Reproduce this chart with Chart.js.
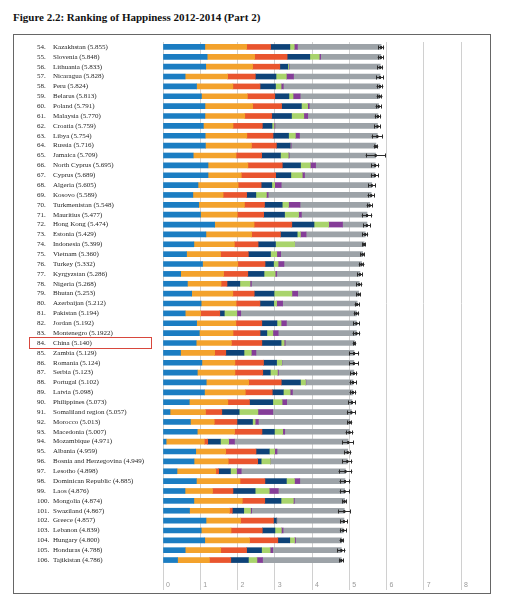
<!DOCTYPE html>
<html><head><meta charset="utf-8">
<script src="https://cdn.jsdelivr.net/npm/chart.js@4/dist/chart.umd.min.js"></script>
<style>
html,body{margin:0;padding:0;background:#fff;}
#wrap{position:relative;width:505px;height:600px;overflow:hidden;}
#title{position:absolute;left:13px;top:11px;font:bold 11px "Liberation Serif",serif;color:#111;white-space:nowrap;line-height:13px;}
#frame{position:absolute;left:13px;top:34px;width:478px;height:560px;border:1px solid #666;box-sizing:border-box;}
canvas{position:absolute;left:0;top:0;}
</style></head><body>
<div id="wrap">
<div id="title">Figure 2.2: Ranking of Happiness 2012-2014 (Part 2)</div>
<div id="frame"></div>
<canvas id="c" width="505" height="600"></canvas>
</div>
<script>
const firstRank = 54;
const highlight = 'China';
const countries = ['Kazakhstan','Slovenia','Lithuania','Nicaragua','Peru','Belarus','Poland','Malaysia','Croatia','Libya','Russia','Jamaica','North Cyprus','Cyprus','Algeria','Kosovo','Turkmenistan','Mauritius','Hong Kong','Estonia','Indonesia','Vietnam','Turkey','Kyrgyzstan','Nigeria','Bhutan','Azerbaijan','Pakistan','Jordan','Montenegro','China','Zambia','Romania','Serbia','Portugal','Latvia','Philippines','Somaliland region','Morocco','Macedonia','Mozambique','Albania','Bosnia and Herzegovina','Lesotho','Dominican Republic','Laos','Mongolia','Swaziland','Greece','Lebanon','Hungary','Honduras','Tajikistan'];
const scoreLabels = ['5.855','5.848','5.833','5.828','5.824','5.813','5.791','5.770','5.759','5.754','5.716','5.709','5.695','5.689','5.605','5.589','5.548','5.477','5.474','5.429','5.399','5.360','5.332','5.286','5.268','5.253','5.212','5.194','5.192','5.1922','5.140','5.129','5.124','5.123','5.102','5.098','5.073','5.057','5.013','5.007','4.971','4.959','4.949','4.898','4.885','4.876','4.874','4.867','4.857','4.839','4.800','4.788','4.786'];
const stdErrors = [0.04114,0.04251,0.03843,0.05371,0.04615,0.03938,0.04263,0.04330,0.04394,0.07832,0.03135,0.13693,0.05635,0.05580,0.05099,0.05018,0.04175,0.07197,0.05051,0.04013,0.02596,0.03107,0.03864,0.03823,0.04192,0.03225,0.03363,0.03726,0.04524,0.05235,0.02424,0.06988,0.06607,0.04864,0.04802,0.04640,0.04934,0.06161,0.03390,0.05376,0.07896,0.05013,0.06913,0.09438,0.07446,0.06698,0.03313,0.08742,0.05062,0.04615,0.03107,0.05648,0.03198];
const gdp = [1.12254,1.18498,1.14723,0.59325,0.90019,1.03192,1.12555,1.12486,1.08254,1.13145,1.13764,0.81038,1.20806,1.20813,0.93929,0.80148,0.95847,1.00761,1.38604,1.15174,0.82827,0.63216,1.06098,0.47428,0.65435,0.77042,1.02389,0.59543,0.90198,0.97438,0.89012,0.47038,1.04345,0.92053,1.15991,1.11312,0.70532,0.18847,0.73479,0.91851,0.08308,0.87867,0.83223,0.37545,0.89537,0.59066,0.82819,0.71206,1.15406,1.02564,1.12094,0.59532,0.39047];
const socialSupport = [1.12241,1.27385,1.25745,1.14184,0.97459,1.23289,1.27948,1.07023,0.79624,1.11862,1.23617,1.15102,1.07008,0.89318,1.07772,0.81198,1.22668,0.98521,1.05818,1.22791,1.08708,0.91226,0.94632,1.15115,0.90432,1.10395,0.93793,0.41411,1.05392,0.90557,0.94675,0.91612,0.88588,1.00964,1.13935,1.09562,1.03516,0.95152,0.64095,1.00232,1.02626,0.80434,0.91916,1.04103,1.17202,0.73803,1.30060,1.07284,0.92933,0.80001,1.20215,0.95348,0.85563];
const lifeExpectancy = [0.64368,0.87337,0.73128,0.74314,0.73017,0.73608,0.77903,0.72394,0.78805,0.70380,0.66926,0.68741,0.92356,0.92356,0.61766,0.63132,0.53886,0.70950,1.01328,0.77361,0.63793,0.74676,0.73172,0.65088,0.16007,0.57407,0.64045,0.51466,0.69639,0.72521,0.81658,0.29924,0.76890,0.74836,0.87519,0.72437,0.58114,0.43873,0.60954,0.73545,0.09131,0.81325,0.79081,0.07612,0.66825,0.54909,0.60268,0.07566,0.88213,0.83947,0.75905,0.69510,0.57379];
const freedom = [0.51649,0.60855,0.21342,0.55475,0.41496,0.37938,0.53122,0.53024,0.25883,0.41668,0.36679,0.50442,0.49027,0.40672,0.28579,0.24749,0.47610,0.56066,0.59608,0.44888,0.46611,0.59444,0.22815,0.43477,0.34334,0.53206,0.37030,0.12102,0.40661,0.18260,0.51697,0.48827,0.35068,0.20107,0.51469,0.29671,0.62545,0.46582,0.41691,0.33457,0.34037,0.35733,0.09245,0.31767,0.57672,0.59591,0.43626,0.30658,0.07699,0.33916,0.32112,0.40148,0.47216];
const generosity = [0.11827,0.25328,0.02641,0.27815,0.14982,0.11046,0.16759,0.33075,0.05444,0.18295,0.00199,0.21123,0.26169,0.30638,0.07822,0.28310,0.16979,0.37744,0.39478,0.08680,0.51535,0.16860,0.12253,0.30030,0.27233,0.47998,0.07799,0.33671,0.11053,0.16140,0.08185,0.19591,0.13748,0.19231,0.13719,0.18226,0.24991,0.50318,0.07172,0.22359,0.22269,0.14272,0.24808,0.16388,0.21684,0.37859,0.33230,0.18259,0.00000,0.17300,0.12800,0.23027,0.22974];
const corruption = [0.08454,0.03787,0.01031,0.19317,0.05989,0.19090,0.04212,0.10501,0.02430,0.11023,0.03005,0.02299,0.14280,0.06146,0.17383,0.04741,0.30844,0.07521,0.37124,0.15184,0.00000,0.10441,0.15746,0.04232,0.04030,0.15445,0.16065,0.10464,0.14293,0.14296,0.02781,0.12468,0.00649,0.02617,0.01078,0.06332,0.12279,0.39928,0.08546,0.05327,0.15603,0.06413,0.00227,0.12504,0.14234,0.24249,0.02666,0.03060,0.01397,0.04582,0.02758,0.06825,0.15072];
const dystopiaResidual = [2.24729,1.61583,2.44649,2.32407,2.59450,2.13090,1.86565,1.88541,2.75414,2.09066,2.27394,2.32038,1.59888,1.88931,2.43209,2.76579,1.86984,1.76145,0.65429,1.58782,1.86399,2.20173,2.08528,2.23270,2.89319,1.63794,2.00073,3.10709,1.87996,2.10017,1.86040,2.63430,1.93129,2.02500,1.26462,1.62215,1.75393,2.11032,2.45373,1.73933,3.05137,1.89894,2.06367,2.79832,1.21305,1.78178,1.34759,2.48676,1.80101,1.61583,1.24074,1.84408,2.11399];
const seriesNames = ['GDP per capita','Social support','Healthy life expectancy','Freedom to make life choices','Generosity','Perceptions of corruption','Dystopia (1.85) + residual'];
const seriesColors = ['#1b7dc2','#f3a22c','#e9552e','#0e4378','#a9d46c','#853d98','#9da3a8'];
const xTicks = [0,1,2,3,4,5,6,7,8];

const seriesData = [gdp, socialSupport, lifeExpectancy, freedom, generosity, corruption, dystopiaResidual];

const rowLabels = {
  id: 'rowLabels',
  afterDraw(chart) {
    const ys = chart.scales.y, c = chart.ctx;
    c.save();
    c.font = '7px "Liberation Serif"';
    c.fillStyle = '#1e1e1e';
    c.textBaseline = 'middle';
    c.textAlign = 'left';
    countries.forEach((name, i) => {
      const py = ys.getPixelForValue(i);
      c.fillText((firstRank + i) + '.', 37, py);
      c.fillText(name + ' (' + scoreLabels[i] + ')', 53, py);
    });
    const hi = countries.indexOf(highlight);
    const hy = Math.round(ys.getPixelForValue(hi));
    c.strokeStyle = '#d8473d';
    c.lineWidth = 1;
    c.strokeRect(29.5, hy - 5.5, 122, 11);
    c.restore();
  }
};

const whiskers = {
  id: 'whiskers',
  afterDatasetsDraw(chart) {
    const xs = chart.scales.x, ys = chart.scales.y, c = chart.ctx;
    c.save();
    c.strokeStyle = '#2a2a2a';
    c.fillStyle = '#2a2a2a';
    c.lineWidth = 1;
    scoreLabels.forEach((sl, i) => {
      const s = parseFloat(sl);
      const lo = xs.getPixelForValue(s - 1.96 * stdErrors[i]);
      const hi = xs.getPixelForValue(s + 1.96 * stdErrors[i]);
      const py = Math.round(ys.getPixelForValue(i)) + 0.5;
      c.beginPath();
      c.moveTo(lo, py); c.lineTo(hi, py);
      c.moveTo(Math.round(lo) + 0.5, py - 2); c.lineTo(Math.round(lo) + 0.5, py + 2);
      c.moveTo(Math.round(hi) - 0.5, py - 2); c.lineTo(Math.round(hi) - 0.5, py + 2);
      c.stroke();
      c.fillRect(xs.getPixelForValue(s) - 1, py - 1.5, 2, 3);
    });
    c.restore();
  }
};

new Chart(document.getElementById('c'), {
  type: 'bar',
  data: {
    labels: countries,
    datasets: seriesData.map((d, k) => ({
      label: seriesNames[k],
      data: d,
      backgroundColor: seriesColors[k],
      borderWidth: 0,
      barThickness: 5
    }))
  },
  options: {
    indexAxis: 'y',
    responsive: false,
    animation: false,
    devicePixelRatio: 1,
    layout: { padding: { top: 42, right: 44, left: 0, bottom: 0 } },
    plugins: { legend: { display: false }, tooltip: { enabled: false }, title: { display: false } },
    scales: {
      x: {
        type: 'linear', stacked: true, min: 0, max: 8, position: 'bottom',
        afterFit(s) { s.height = 35; },
        afterBuildTicks(s) { s.ticks = xTicks.map(v => ({ value: v })); },
        grid: { color: '#d0d0d0', lineWidth: 1, drawTicks: true, tickLength: 25, tickColor: '#d0d0d0' },
        border: { display: false },
        ticks: { align: 'start', labelOffset: 3, padding: -9, color: '#9a9a9a', font: { family: 'Liberation Sans', size: 7 } }
      },
      y: {
        type: 'category', stacked: true,
        afterFit(s) { s.width = 163; },
        grid: { display: false }, border: { display: false },
        ticks: { display: false }
      }
    }
  },
  plugins: [whiskers, rowLabels]
});
</script>
</body></html>
